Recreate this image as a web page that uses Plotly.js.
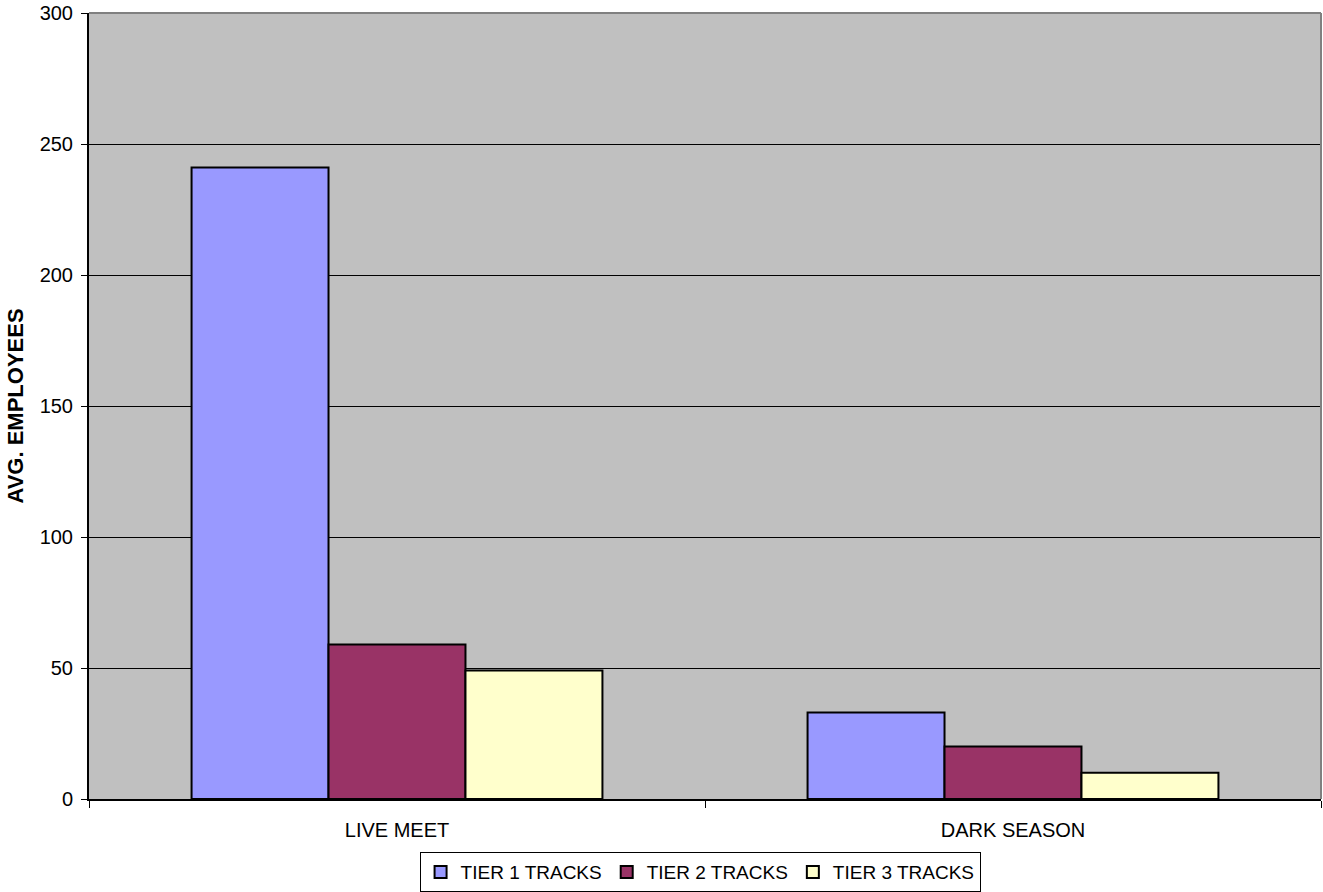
<!DOCTYPE html>
<html>
<head>
<meta charset="utf-8">
<script src="https://cdn.plot.ly/plotly-3.0.1.min.js"></script>
<style>
  html, body { margin: 0; padding: 0; background: #ffffff; }
  #chart { width: 1323px; height: 892px; }
</style>
</head>
<body>
<div id="chart"></div>
<script>
// Average employees per track, by season
const categories = ["LIVE MEET", "DARK SEASON"];
const seriesNames = ["TIER 1 TRACKS", "TIER 2 TRACKS", "TIER 3 TRACKS"];
const tier1 = [241, 33];
const tier2 = [59, 20];
const tier3 = [49, 10];
const seriesColors = ["#9999FF", "#993366", "#FFFFCC"];
const yTicks = [0, 50, 100, 150, 200, 250, 300];

const FONT = "Liberation Sans, Arial, sans-serif";

const traces = [tier1, tier2, tier3].map((vals, i) => ({
  type: "bar",
  name: seriesNames[i],
  x: categories,
  y: vals,
  marker: { color: seriesColors[i], line: { color: "#000000", width: 2 } },
  hoverinfo: "x+y+name"
}));

const layout = {
  width: 1323,
  height: 892,
  margin: { l: 89, r: 2, t: 13, b: 93, autoexpand: false },
  paper_bgcolor: "#ffffff",
  plot_bgcolor: "#C0C0C0",
  font: { family: FONT, size: 20, color: "#000000" },
  barmode: "group",
  bargap: 0.333,
  bargroupgap: 0,
  showlegend: true,
  legend: {
    orientation: "h",
    x: 0.496, xanchor: "center",
    y: -0.0675, yanchor: "top",
    bordercolor: "#000000", borderwidth: 1,
    bgcolor: "#ffffff",
    font: { family: FONT, size: 19, color: "#000000" },
    itemwidth: 30,
    traceorder: "normal"
  },
  xaxis: {
    type: "category",
    showline: true, linecolor: "#000000", linewidth: 2,
    ticks: "outside", tickson: "boundaries", ticklen: 7, tickwidth: 1, tickcolor: "#000000",
    ticklabelstandoff: 12,
    showgrid: false, zeroline: false,
    tickfont: { family: FONT, size: 20, color: "#000000" },
    fixedrange: true
  },
  yaxis: {
    range: [0, 300],
    tickvals: yTicks,
    ticktext: yTicks.map(String),
    showline: true, linecolor: "#000000", linewidth: 2,
    ticks: "outside", ticklen: 6, tickwidth: 1, tickcolor: "#000000",
    ticklabelstandoff: 4,
    showgrid: true, gridcolor: "#000000", gridwidth: 1,
    zeroline: false,
    tickfont: { family: FONT, size: 20, color: "#000000" },
    title: {
      text: "AVG. EMPLOYEES",
      font: { family: FONT, size: 22, color: "#000000", weight: "bold" },
      standoff: 10
    },
    fixedrange: true
  },
  shapes: [
    // grey frame on the top and right edges of the plot area
    { type: "line", xref: "paper", yref: "paper", x0: 0, x1: 1, y0: 1, y1: 1,
      line: { color: "#808080", width: 2 } },
    { type: "line", xref: "paper", yref: "paper", x0: 1, x1: 1, y0: 0, y1: 1,
      line: { color: "#808080", width: 2 } }
  ]
};

Plotly.newPlot("chart", traces, layout, { displayModeBar: false, staticPlot: true });
</script>
</body>
</html>
